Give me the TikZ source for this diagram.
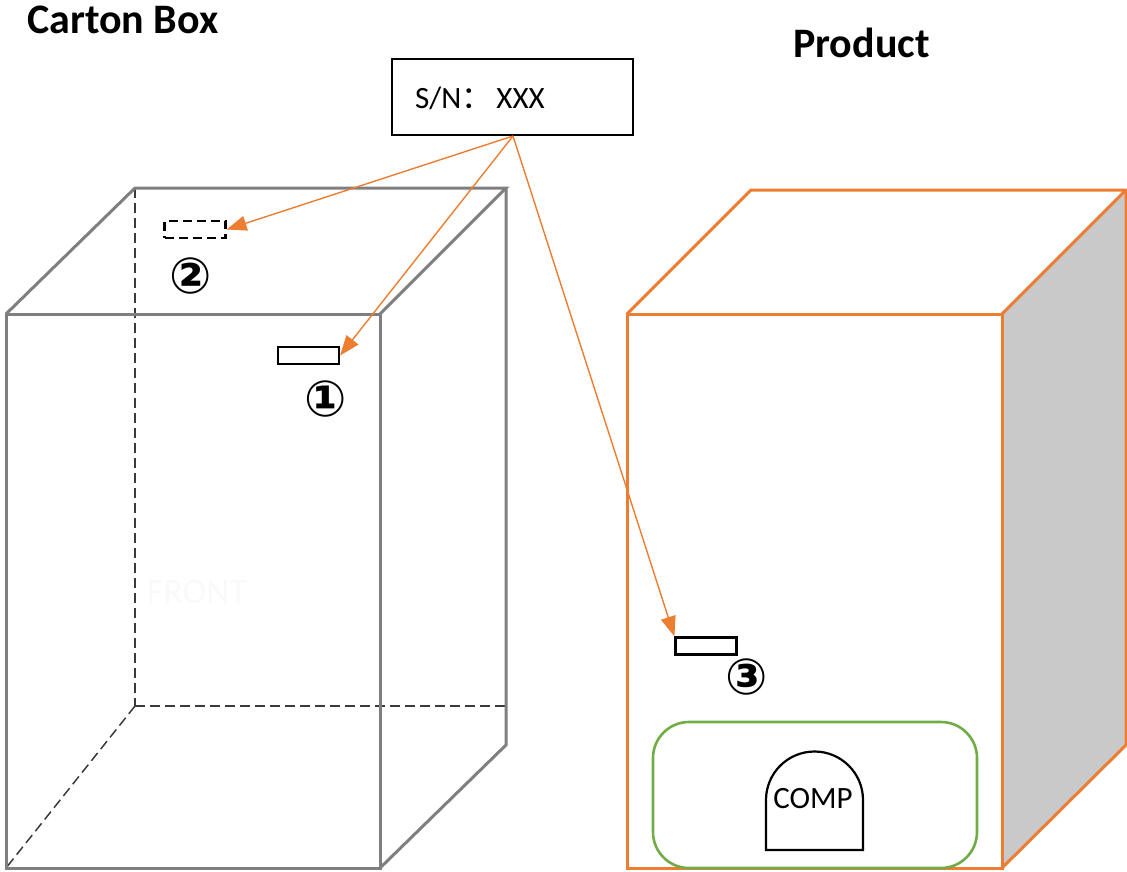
\documentclass[tikz,border=0pt]{standalone}
\usepackage{fontspec}
\setmainfont{Carlito}
\newfontfamily\symfont{DejaVu Sans}
\newfontfamily\cjk{Noto Sans CJK SC}
\usetikzlibrary{arrows.meta}
\definecolor{cartongray}{HTML}{7F7F7F}
\definecolor{hidden}{HTML}{3A3A3A}
\definecolor{prodorange}{HTML}{ED7D31}
\definecolor{compgreen}{HTML}{70AD47}
\definecolor{sidegray}{HTML}{C9C9C9}
\definecolor{faint}{HTML}{F9F9F9}
\tikzset{
  cartonline/.style={draw=cartongray, line width=3pt, line join=miter},
  hiddenline/.style={draw=hidden, line width=1.5pt, dash pattern=on 10pt off 5pt},
  prodline/.style={draw=prodorange, line width=3pt, line join=miter},
  labelbox/.style={draw=black, line width=2.2pt, inner sep=0pt, minimum width=61pt, minimum height=17pt},
  labeldash/.style={labelbox, dash pattern=on 9pt off 5pt},
  numtxt/.style={font=\symfont\bfseries\fontsize{50}{50}\selectfont, inner sep=0pt},
  titletxt/.style={font=\bfseries\fontsize{42}{42}\selectfont, inner sep=0pt, anchor=base west},
  arr/.style={draw=prodorange, line width=1.4pt, -{Triangle[length=20pt,width=15pt]}},
}
\begin{document}
\begin{tikzpicture}[x=1pt,y=-1pt]
\useasboundingbox (0,0) rectangle (1127,871);

% titles
\node[titletxt] (tcarton) at (27,33) {Carton Box};
\node[titletxt] (tproduct) at (793,57) {Product};

% ---------- Carton box ----------
\coordinate (cFTL) at (6,314);
\coordinate (cFTR) at (380,314);
\coordinate (cFBR) at (380,868);
\coordinate (cFBL) at (6,868);
\coordinate (cBTL) at (135,188);
\coordinate (cBTR) at (506,188);
\coordinate (cBBR) at (506,745);
\coordinate (cBBL) at (135,706);
% hidden edges
\draw[hiddenline] (cBTL) -- (cBBL);
\draw[hiddenline] (cBBL) -- (cBBR |- cBBL);
\draw[hiddenline] (cBBL) -- (cFBL);
% visible edges
\draw[cartonline] (cFTL) rectangle (cFBR);
\draw[cartonline] (cFTL) -- (cBTL) -- (cBTR) -- (cFTR);
\draw[cartonline] (cBTR) -- (cBBR) -- (cFBR);
\node[text=faint, font=\fontsize{36}{36}\selectfont] (front) at (197,592) {FRONT};

% labels on carton
\node[labelbox] (l1) at (308.5,355.5) {};
\node[numtxt] (n1) at (326,399) {①};
\node[labeldash] (l2) at (195,229.5) {};
\node[numtxt] (n2) at (191,276) {②};

% ---------- Product ----------
\coordinate (pFTL) at (627,314);
\coordinate (pFTR) at (1002,314);
\coordinate (pFBR) at (1002,868);
\coordinate (pFBL) at (627,868);
\coordinate (pBTL) at (751,190);
\coordinate (pBTR) at (1126,190);
\coordinate (pBBR) at (1126,745);
\fill[sidegray] (pFTR) -- (pBTR) -- (pBBR) -- (pFBR) -- cycle;
\draw[prodline] (pFTL) rectangle (pFBR);
\draw[prodline] (pFTL) -- (pBTL) -- (pBTR) -- (pFTR);
\draw[prodline] (pBTR) -- (pBBR) -- (pFBR);

% component area
\draw[draw=compgreen, line width=2.6pt, rounded corners=36pt] (653,722) rectangle (977,868);
\draw[line width=2.2pt] (766,850) -- (766,800) arc[start angle=180, end angle=360, radius=48.5] -- (863,850) -- cycle;
\node[font=\fontsize{31}{31}\selectfont, inner sep=0pt, anchor=base] (comp) at (813,808) {COMP};

\node[labelbox] (l3) at (706,646) {};
\node[numtxt] (n3) at (747,677) {③};

% ---------- S/N label ----------
\node[draw=black, line width=2.2pt, minimum width=241pt, minimum height=76pt, inner sep=0pt, anchor=north west] (sn) at (391,58) {};
\node[font=\fontsize{31}{31}\selectfont, inner sep=0pt, anchor=base west] (sntext) at (415,108) {S/N{\cjk ：}\kern4pt XXX};
\coordinate (snpt) at (513,136);

% arrows
\draw[arr] (snpt) -- (l2.east);
\draw[arr] (snpt) -- (l1.east);
\draw[arr] (snpt) -- (l3.north west);
\end{tikzpicture}
\end{document}
